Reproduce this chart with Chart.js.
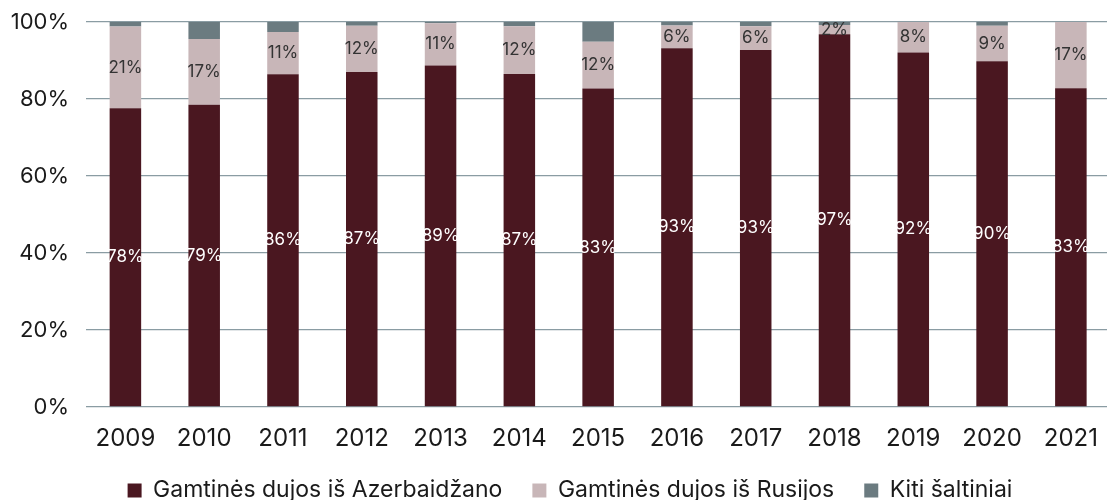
<!DOCTYPE html>
<html>
<head>
<meta charset="utf-8">
<script src="https://cdn.jsdelivr.net/npm/chart.js@4"></script>
<style>
  html, body { margin: 0; padding: 0; background: #fff; overflow: hidden; }
  /* slightly wider than the window so the last bar sits where it does in the original */
  .chart-container { position: relative; width: 1115px; height: 512px; }
</style>
</head>
<body>
<div class="chart-container">
  <canvas id="gasChart"></canvas>
</div>
<script>
const years = ['2009', '2010', '2011', '2012', '2013', '2014', '2015', '2016', '2017', '2018', '2019', '2020', '2021'];
const azerbaijan = [77.6, 78.5, 86.4, 87.0, 88.7, 86.5, 82.7, 93.2, 92.7, 96.8, 92.1, 89.8, 82.8];
const russia = [21.2, 17.1, 11.0, 12.0, 11.0, 12.4, 12.2, 5.9, 6.2, 2.4, 7.9, 9.2, 17.2];
const other = [1.2, 4.4, 2.6, 1.0, 0.3, 1.1, 5.1, 0.9, 1.1, 0.8, 0.0, 1.0, 0.0];
const yTicks = [0, 20, 40, 60, 80, 100];

const FONT = 'Inter, "Noto Sans", sans-serif';

// draw the percentage labels inside the first two series
const segmentLabels = {
    id: 'segmentLabels',
    afterDatasetsDraw(chart) {
        const ctx = chart.ctx;
        const colors = ['#ffffff', '#333333'];
        ctx.save();
        ctx.font = '17px ' + FONT;
        ctx.textAlign = 'center';
        ctx.textBaseline = 'middle';
        [0, 1].forEach(di => {
            const meta = chart.getDatasetMeta(di);
            meta.data.forEach((bar, i) => {
                const v = chart.data.datasets[di].data[i];
                if (!v) return;
                ctx.fillStyle = colors[di];
                ctx.fillText(Math.round(v) + '%', bar.x, (bar.y + bar.base) / 2);
            });
        });
        ctx.restore();
    }
};

// legend in the original sits a bit right of the canvas centre
const legendShift = {
    id: 'legendShift',
    afterLayout(chart) {
        if (chart.legend) chart.legend.left += 26;
    }
};

const ctx = document.getElementById('gasChart').getContext('2d');
new Chart(ctx, {
    type: 'bar',
    data: {
        labels: years,
        datasets: [
            { label: 'Gamtinės dujos iš Azerbaidžano', data: azerbaijan, backgroundColor: '#4a1720' },
            { label: 'Gamtinės dujos iš Rusijos', data: russia, backgroundColor: '#c8b6b8' },
            { label: 'Kiti šaltiniai', data: other, backgroundColor: '#6b7b80' }
        ]
    },
    options: {
        responsive: true,
        maintainAspectRatio: false,
        animation: false,
        barPercentage: 0.4,
        categoryPercentage: 1,
        layout: { padding: { top: 22, left: 0, right: 1, bottom: 0 } },
        scales: {
            x: {
                stacked: true,
                grid: { display: false, drawTicks: false },
                border: { display: false },
                afterFit: axis => { axis.height = 42; },
                ticks: { color: '#1a1a1a', font: { family: FONT, size: 24 }, padding: 17 }
            },
            y: {
                stacked: true,
                min: 0,
                max: 100,
                afterBuildTicks: axis => { axis.ticks = yTicks.map(v => ({ value: v })); },
                afterFit: axis => {
                    axis.width = 86;
                    axis.paddingTop = 0;
                    axis.paddingBottom = 0;
                },
                grid: { color: '#8a9ca3', lineWidth: 1.3, drawTicks: false },
                border: { display: false },
                ticks: {
                    color: '#1a1a1a',
                    font: { family: FONT, size: 22 },
                    padding: 17,
                    callback: v => v + '%'
                }
            }
        },
        plugins: {
            legend: {
                position: 'bottom',
                labels: {
                    color: '#1a1a1a',
                    font: { family: FONT, size: 23 },
                    boxWidth: 14,
                    boxHeight: 14,
                    padding: 30
                }
            },
            tooltip: { enabled: false }
        }
    },
    plugins: [segmentLabels, legendShift]
});
</script>
</body>
</html>
